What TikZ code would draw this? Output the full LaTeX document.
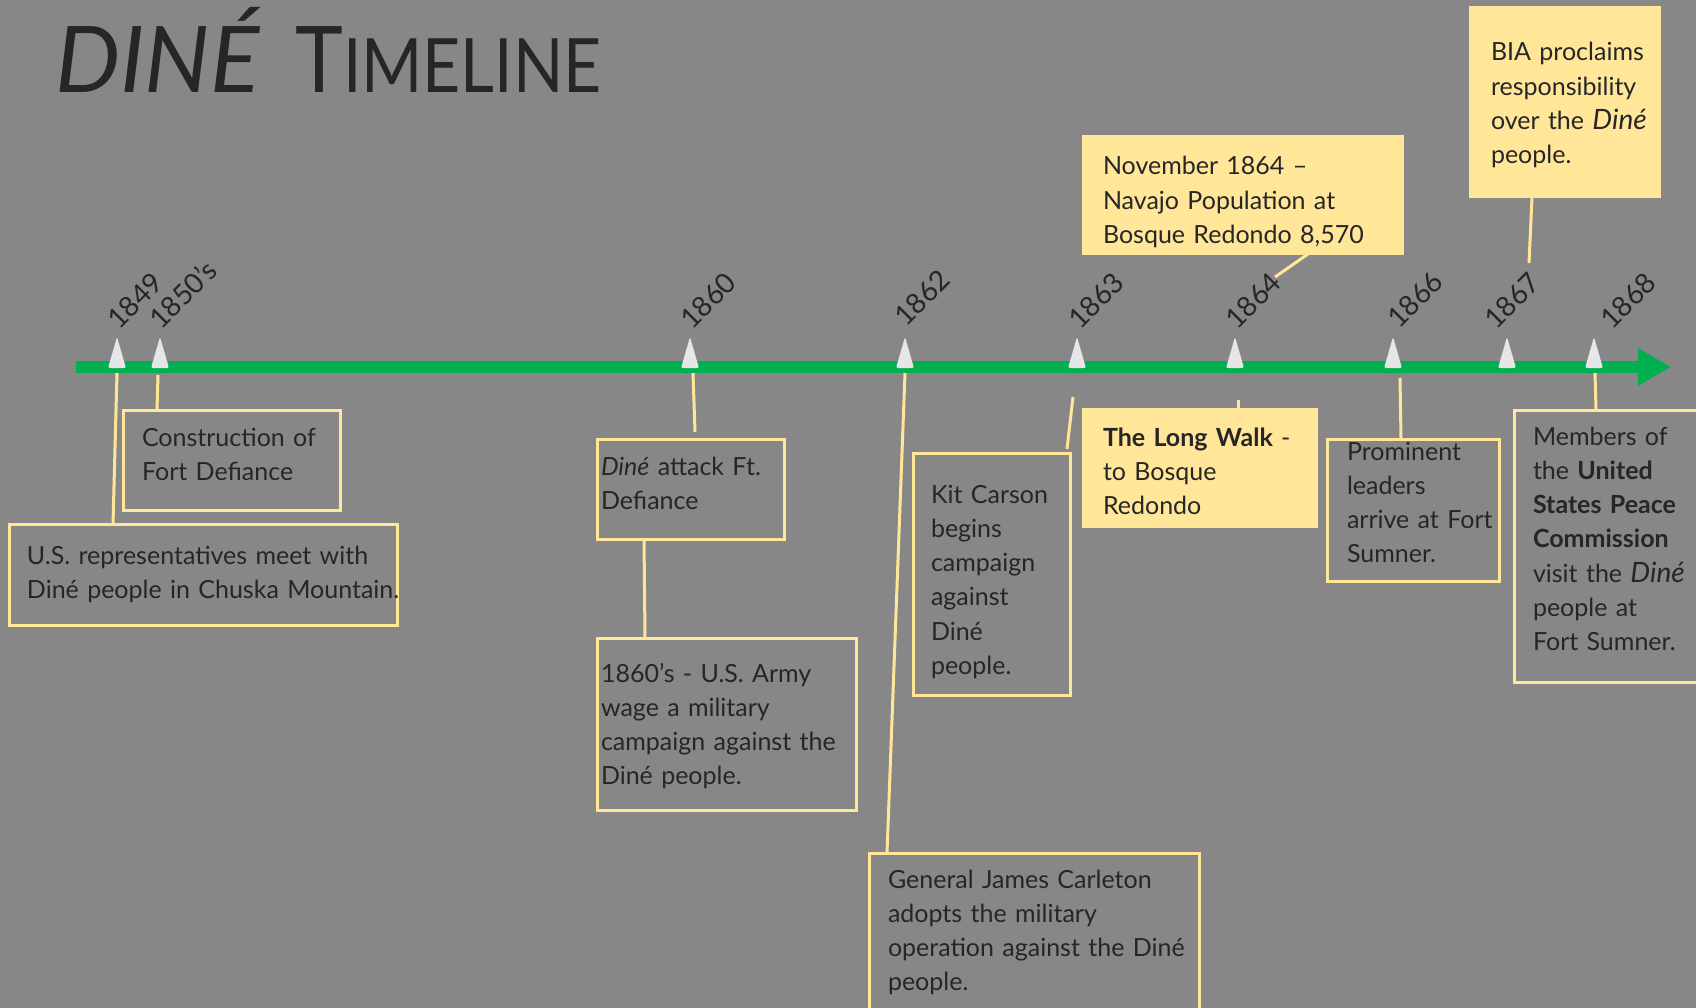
\documentclass[tikz,border=0pt]{standalone}
\usepackage{fontspec}
\setmainfont{Lato}
\usetikzlibrary{arrows.meta}
\definecolor{bg}{RGB}{135,135,135}
\definecolor{note}{RGB}{255,230,153}
\definecolor{ink}{RGB}{38,38,38}
\definecolor{axis}{RGB}{0,176,80}
\definecolor{tickc}{RGB}{230,230,230}
\begin{document}
\begin{tikzpicture}[x=1pt,y=-1pt,
  box/.style={draw=note, line width=3pt, outer sep=0pt, inner sep=0pt, anchor=north west},
  filledbox/.style={box, fill=note},
  txt/.style={anchor=base west, inner sep=0pt, outer sep=0pt, align=left, text width=420pt,
    text=ink, font=\fontsize{25}{34.3}\selectfont},
  year/.style={anchor=base west, inner sep=0pt, rotate=45, text=ink, font=\fontsize{28}{30}\selectfont},
  link/.style={draw=note, line width=3pt},
  ticktri/.style={fill=tickc, rounded corners=2pt},
]
\useasboundingbox (0,0) rectangle (1696,1008);
\fill[bg] (0,0) rectangle (1696,1008);
\clip (0,0) rectangle (1696,1008);

% heading
\node[anchor=base west, inner sep=0pt, text=ink, font=\fontsize{92}{92}\selectfont\itshape] (ttlA) at (55,93) {DINÉ};
\node[anchor=base west, inner sep=0pt, text=ink] (ttlB) at (295,93)
  {\scalebox{0.88}[1]{\fontsize{92}{92}\selectfont T\fontsize{75}{75}\selectfont IMELINE}};

% time axis
\draw[axis, line width=12pt, -{Triangle[length=33pt,width=35pt]}] (76,367) -- (1671,367);

% year markers and labels
\foreach \tx/\lx/\ly/\yr/\nm in {117/119/331/1849/a, 160/161/331/1850’s/b, 690/692/331/1860/c,
    905/906/328/1862/d, 1077/1080/331/1863/e, 1235/1237/331/1864/f, 1393/1399/330/1866/g,
    1507/1496/331/1867/h, 1594/1612/331/1868/i}{
  \fill[ticktri] (\tx-9,368) -- (\tx,337) -- (\tx+9,368) -- cycle;
  \node[year] (yr\nm) at (\lx,\ly) {\yr};
}
\coordinate (ka) at (117,373);
\coordinate (kb) at (158,375);
\coordinate (kc) at (693,373);
\coordinate (kd) at (905,373);
\coordinate (ke) at (1073,397);
\coordinate (kf) at (1238,400);
\coordinate (kg) at (1400,378);
\coordinate (ki) at (1595,373);
\coordinate (kpop) at (1275,277);
\coordinate (kbia) at (1529,263);

% event boxes
\node[box, minimum width=217pt, minimum height=100pt] (bA) at (123,410) {};
\node[txt] (tA) at (142,446) {Construction of\\Fort Defiance};

\node[box, minimum width=388pt, minimum height=101pt] (bB) at (9,524) {};
\node[txt] (tB) at (27,564) {U.S. representatives meet with\\Diné people in Chuska Mountain.};

\node[box, minimum width=187pt, minimum height=100pt] (bC) at (597,439) {};
\node[txt] (tC) at (601,475) {\textit{Diné} attack Ft.\\Defiance};

\node[box, minimum width=259pt, minimum height=172pt] (bD) at (597,638) {};
\node[txt] (tD) at (601,682) {1860’s - U.S. Army\\wage a military\\campaign against the\\Diné people.};

\node[box, minimum width=157pt, minimum height=242pt] (bE) at (913,453) {};
\node[txt] (tE) at (931,503) {Kit Carson\\begins\\campaign\\against\\Diné\\people.};

\node[filledbox, minimum width=233pt, minimum height=117pt] (bF) at (1083,409) {};
\node[txt] (tF) at (1103,446) {\textbf{The Long Walk} -\\to Bosque\\Redondo};

\node[box, minimum width=172pt, minimum height=142pt] (bG) at (1327,439) {};
\node[txt] (tG) at (1347,460) {Prominent\\leaders\\arrive at Fort\\Sumner.};

\node[box, minimum width=220pt, minimum height=272pt] (bH) at (1514,410) {};
\node[txt] (tH) at (1533,445) {Members of\\the \textbf{United}\\\textbf{States Peace}\\\textbf{Commission}\\visit the {\fontsize{28}{34.3}\selectfont\textit{Diné}}\\people at\\Fort Sumner.};

\node[filledbox, minimum width=319pt, minimum height=117pt] (bI) at (1083,137) {};
\node[txt] (tI) at (1103,175) {November 1864 –\\Navajo Population at\\Bosque Redondo 8,570};

\node[filledbox, minimum width=189pt, minimum height=189pt] (bJ) at (1470,8) {};
\node[txt] (tJ) at (1491,61) {BIA proclaims\\responsibility\\over the {\fontsize{28}{34.3}\selectfont\textit{Diné}}\\people.};

\node[box, minimum width=330pt, minimum height=180pt] (bK) at (869,853) {};
\node[txt] (tK) at (888,888) {General James Carleton\\adopts the military\\operation against the Diné\\people.};

% leader lines
\draw[link] (ka) -- ([xshift=104pt]bB.north west);
\draw[link] (kb) -- ([xshift=34pt]bA.north west);
\draw[link] (kc) -- ([xshift=98pt,yshift=7pt]bC.north west);
\draw[link] ([xshift=47pt]bC.south west) -- ([xshift=48pt]bD.north west);
\draw[link] (kd) -- ([xshift=18pt]bK.north west);
\draw[link] (ke) -- ([xshift=154pt,yshift=4pt]bE.north west);
\draw[link] (kf) -- ([xshift=155pt]bF.north west);
\draw[link] ([xshift=225pt]bI.south west) -- (kpop);
\draw[link] (kg) -- ([xshift=74pt]bG.north west);
\draw[link] ([xshift=62pt]bJ.south west) -- (kbia);
\draw[link] (ki) -- ([xshift=82pt]bH.north west);
\end{tikzpicture}
\end{document}
